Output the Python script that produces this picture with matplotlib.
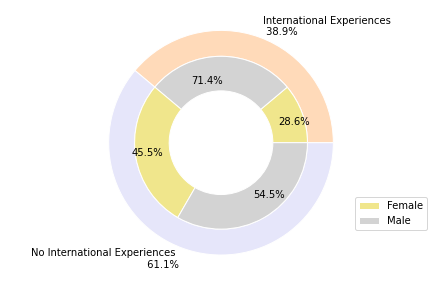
import matplotlib
matplotlib.use("Agg")
import matplotlib.pyplot as plt

groups = ["International Experiences", "No International Experiences"]
group_counts = [7, 11]
genders = ["Female", "Male"]
inner_counts = [2, 5, 5, 6]
inner_pct_labels = ["28.6%", "71.4%", "45.5%", "54.5%"]

outer_colors = ["#FFDAB9", "#E6E6FA"]
inner_colors = ["#F0E68C", "#D3D3D3", "#F0E68C", "#D3D3D3"]

total = sum(group_counts)
outer_labels = [f"{g} \n {c / total * 100:.1f}%" for g, c in zip(groups, group_counts)]

fig = plt.figure(figsize=(6, 4), dpi=72)
ax = fig.add_axes([0.2616, 0.1295, 0.5, 0.75])

ax.pie(group_counts, radius=1.3, labels=outer_labels, colors=outer_colors,
       wedgeprops=dict(width=0.3, edgecolor="white"))

wedges, texts = ax.pie(inner_counts, radius=1.0, colors=inner_colors,
                       wedgeprops=dict(width=0.4, edgecolor="white"))

# percentage annotations within each group
pct_pos = [(0.84, 0.24), (-0.16, 0.71), (-0.85, -0.12), (0.55, -0.61)]
for (x, y), s in zip(pct_pos, inner_pct_labels):
    ax.text(x, y, s, ha="center", va="center", fontsize=10)

ax.set_aspect("equal")
fig.legend(wedges[:2], genders, loc="lower right", bbox_to_anchor=(0.989, 0.2014),
           bbox_transform=fig.transFigure, borderaxespad=0)

fig.savefig("out.png", dpi=72)
